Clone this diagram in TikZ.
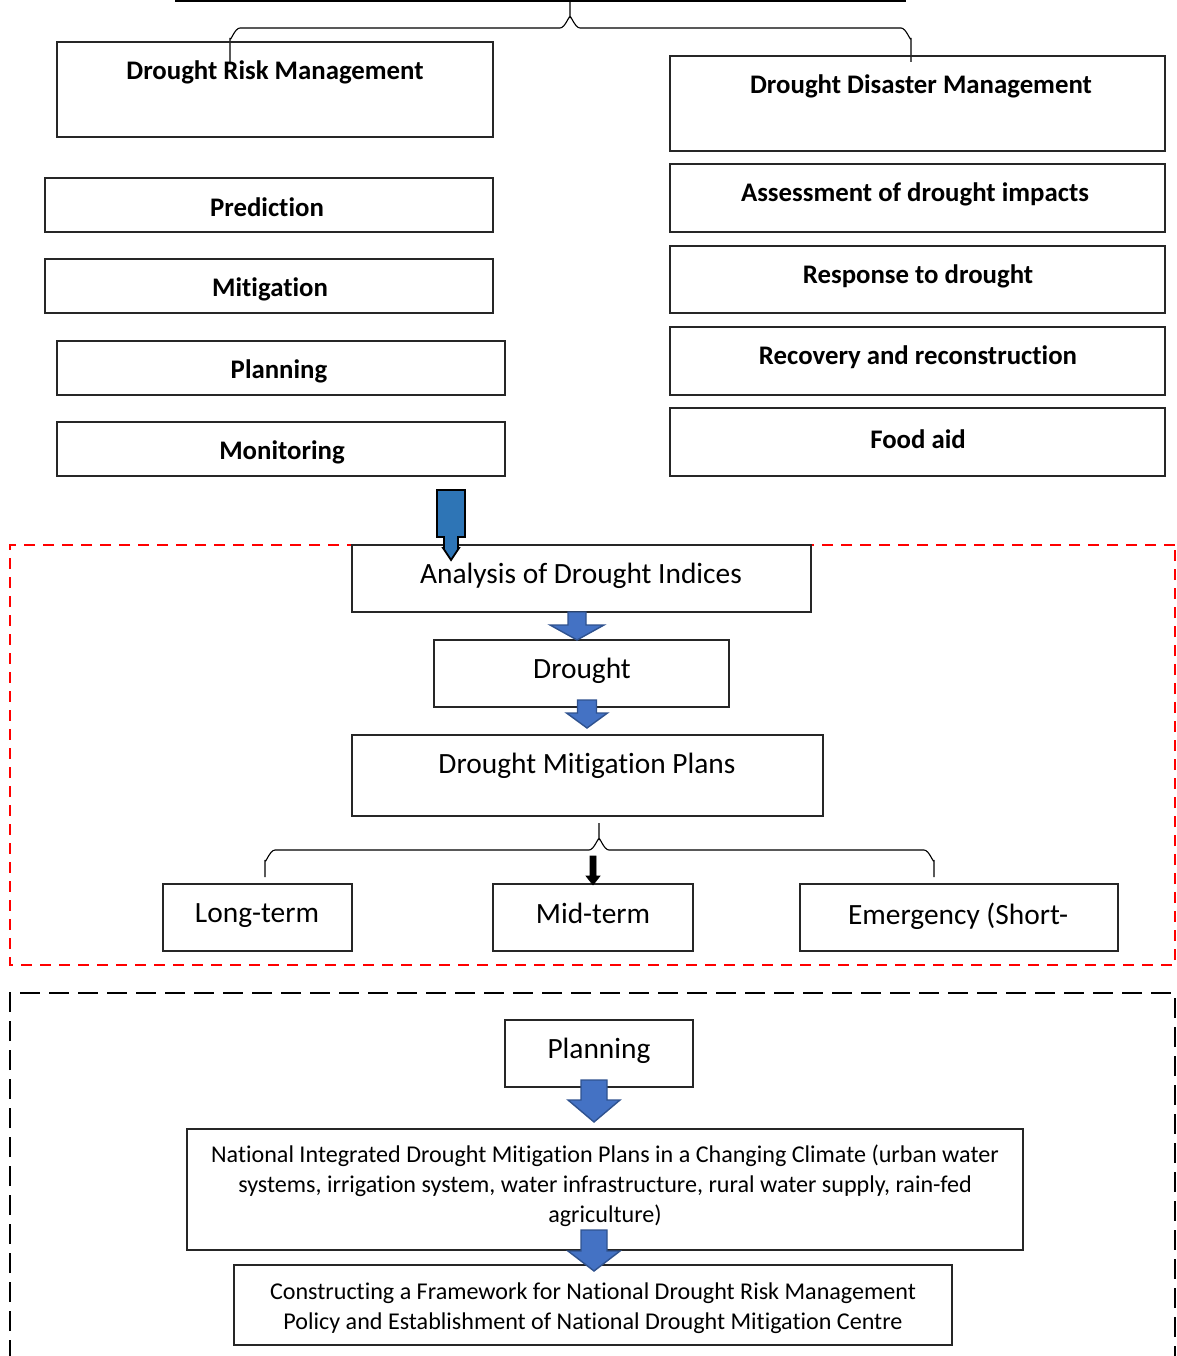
\documentclass[tikz,border=0pt]{standalone}
\usepackage{fontspec}
\setmainfont{Carlito}[Ligatures=NoCommon]
\definecolor{bluea}{HTML}{2E75B6}
\definecolor{blueb}{HTML}{4472C4}
\definecolor{bluec}{HTML}{2F528F}
\definecolor{redd}{HTML}{FF0000}
\tikzset{
  box/.style={draw=black!85, line width=1.2pt, inner sep=0pt, fill=none},
  btxt/.style={inner sep=0pt, yshift=-2pt, font=\fontsize{26.8}{30}\selectfont\bfseries},
  mtxt/.style={inner sep=0pt, yshift=-2pt, font=\fontsize{29.4}{34}\selectfont},
  stxt/.style={inner sep=0pt, yshift=-1pt, align=center, font=\fontsize{24.1}{30}\selectfont},
  bracel/.style={draw=black, line width=1.1pt},
  blockarr/.style={fill=blueb, draw=bluec, line width=1.4pt, line join=miter},
}
\newcommand\mybox[5]{\node[box, minimum width={(#4-#2)*1pt}, minimum height={(#5-#3)*1pt}] (#1) at ({(#2+#4)/2},{(#3+#5)/2}) {};}
% cx, shaft top, head start, tip, shaft half, head half
\newcommand\blockarrow[6]{\draw[blockarr] ({#1-#5},#2) -- ({#1+#5},#2) -- ({#1+#5},#3) -- ({#1+#6},#3) -- (#1,#4) -- ({#1-#6},#3) -- ({#1-#5},#3) -- cycle;}
\begin{document}
\begin{tikzpicture}[x=1pt,y=-1pt]
\useasboundingbox (0,0) rectangle (1176,1356);
% top box bottom edge (box above page)
\coordinate (topl) at (175,1);
\coordinate (topr) at (906,1);
\draw[line width=2pt] (topl) -- (topr);
% top brace
\coordinate (tb) at (570,0);
\coordinate (tbl) at (230,62);
\coordinate (tbr) at (911,62);
\draw[bracel] (tbl) -- (230,38) to[out=-90,in=180] (240,28) -- (560,28) to[out=0,in=90] (570,18) -- (tb);
\draw[bracel] (570,18) to[out=90,in=180] (580,28) -- (901,28) to[out=0,in=-90] (911,38) -- (tbr);
% left column
\mybox{drm}{57}{42}{493}{137}
\node[btxt] (drmt) at (275,70) {Drought Risk Management};
\mybox{pred}{45}{178}{493}{232}
\node[btxt] (predt) at (267,205) {Prediction};
\mybox{miti}{45}{259}{493}{313}
\node[btxt] (mitit) at (270,287) {Mitigation};
\mybox{plan}{57}{341}{505}{395}
\node[btxt] (plant) at (279,369) {Planning};
\mybox{moni}{57}{422}{505}{476}
\node[btxt] (monit) at (282,450) {Monitoring};
% right column
\mybox{ddm}{670}{56}{1165}{151}
\node[btxt] (ddmt) at (921,84) {Drought Disaster Management};
\mybox{asse}{670}{164}{1165}{232}
\node[btxt] (asset) at (915,192) {Assessment of drought impacts};
\mybox{resp}{670}{246}{1165}{313}
\node[btxt] (respt) at (918,274) {Response to drought};
\mybox{reco}{670}{327}{1165}{395}
\node[btxt] (recot) at (918,355) {Recovery and reconstruction};
\mybox{food}{670}{408}{1165}{476}
\node[btxt] (foodt) at (918,437) {Food aid};
% red dashed region
\draw[redd, line width=2.2pt, dash pattern=on 11pt off 8pt] (1175,545) -- (10,545) -- (10,965) -- (1175,965) -- cycle;
% middle boxes
\mybox{anal}{352}{545}{811}{612}
\node[mtxt] (analt) at (581,574) {Analysis of Drought Indices};
\mybox{drou}{434}{640}{729}{707}
\node[mtxt] (drout) at (582,669) {Drought};
\mybox{dmp}{352}{735}{823}{816}
\node[mtxt] (dmpt) at (587,764) {Drought Mitigation Plans};
\mybox{long}{163}{884}{352}{951}
\node[mtxt] (longt) at (257,914) {Long-term};
\mybox{mid}{493}{884}{693}{951}
\node[mtxt] (midt) at (593,911) {Mid-term};
\mybox{emer}{800}{884}{1118}{951}
\node[mtxt] (emert) at (958,914) {Emergency (Short-};
% first (dark blue) arrow
\draw[fill=bluea, draw=black, line width=1.8pt, line join=miter] (437,490) -- (465,490) -- (465,537) -- (458,537) -- (458,548) -- (459,548) -- (451,560) -- (443,548) -- (444,548) -- (444,537) -- (437,537) -- cycle;
% block arrows in middle
\blockarrow{577}{612}{625}{640}{9}{27}
\blockarrow{587}{700}{713}{728}{9.5}{20.5}
% middle brace
\coordinate (mb) at (599,823);
\coordinate (mbl) at (265,877);
\coordinate (mbr) at (934,877);
\draw[bracel] (mbl) -- (265,860) to[out=-90,in=180] (275,850) -- (589,850) to[out=0,in=90] (599,840) -- (mb);
\draw[bracel] (599,840) to[out=90,in=180] (609,850) -- (924,850) to[out=0,in=-90] (934,860) -- (mbr);
% black arrow to mid-term
\coordinate (ba) at (593,856);
\draw[fill=black, draw=black, line width=0.6pt] (590,856) -- (596,856) -- (596,876) -- (600,876) -- (593,885) -- (586,876) -- (590,876) -- cycle;
% black dashed region
\draw[black, line width=2.4pt, dash pattern=on 20pt off 9pt] (10,1360) -- (10,993) -- (1175,993) -- (1175,1360);
% bottom boxes
\mybox{plan2}{505}{1020}{693}{1087}
\node[mtxt] (plan2t) at (599,1049) {Planning};
\mybox{nat}{187}{1129}{1023}{1250}
\node[stxt] (natt) at (605,1185) {National Integrated Drought Mitigation Plans in a Changing Climate (urban water\\systems, irrigation system, water infrastructure, rural water supply, rain-fed\\agriculture)};
\mybox{cons}{234}{1265}{952}{1345}
\node[stxt] (const) at (593,1307) {Constructing a Framework for National Drought Risk Management\\Policy and Establishment of National Drought Mitigation Centre};
\blockarrow{594}{1080}{1100}{1122}{13}{26}
\blockarrow{594}{1230}{1251}{1271}{13}{26}
\end{tikzpicture}
\end{document}
